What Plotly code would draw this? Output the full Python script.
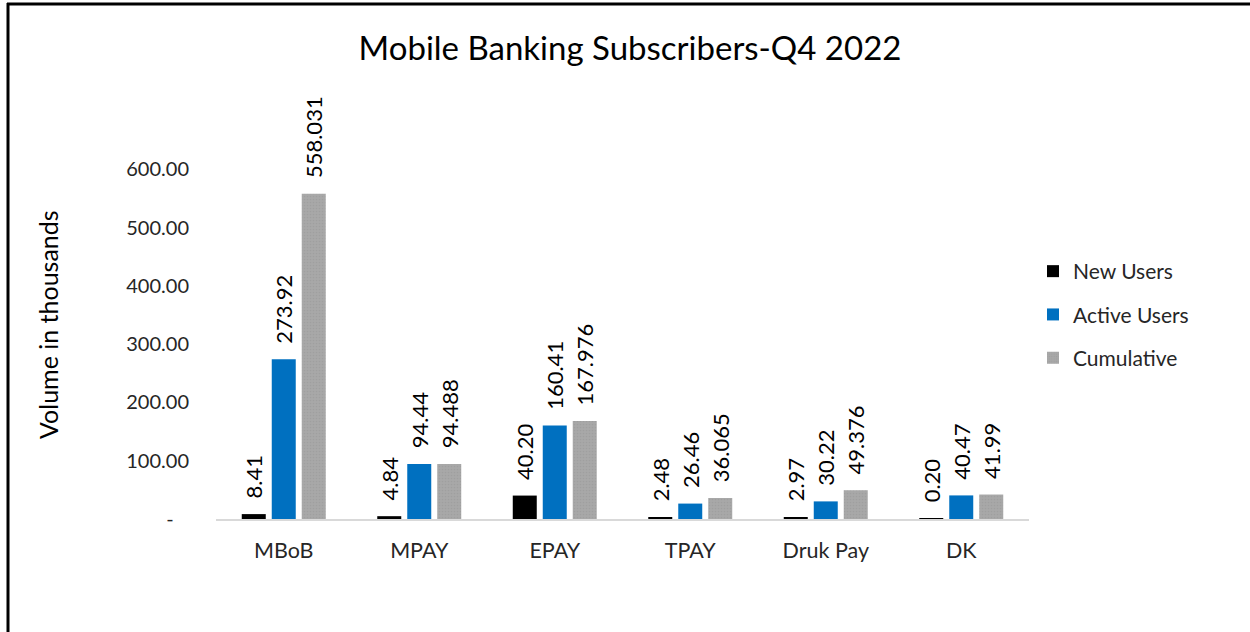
import plotly.graph_objects as go

categories = ["MBoB", "MPAY", "EPAY", "TPAY", "Druk Pay", "DK"]
new_users = [8.41, 4.84, 40.20, 2.48, 2.97, 0.20]
active_users = [273.92, 94.44, 160.41, 26.46, 30.22, 40.47]
cumulative = [558.031, 94.488, 167.976, 36.065, 49.376, 41.99]
tick_vals = [0, 100, 200, 300, 400, 500, 600]
tick_text = ["-\u00a0\u00a0\u00a0", "100.00", "200.00", "300.00", "400.00", "500.00", "600.00"]

FONT = "Lato, 'Open Sans', sans-serif"
PAD = "\u200b\u00a0\u00a0\u200a"

# pixel geometry helpers (plot area: x 216..1029, y 111..519)
L, R, T, B = 216, 1029, 111, 519
W, H = 1250, 632
def px(x):
    return (x - L) / (R - L)
def py(y):
    return (B - y) / (B - T)

fig = go.Figure()
series = [
    ("New Users", new_users, "#000000", "%{y:.2f}", None),
    ("Active Users", active_users, "#0070C0", "%{y:.2f}", None),
    ("Cumulative", cumulative, "#A5A5A5", "%{y}", dict(shape=".", fgcolor="#969696", bgcolor="#A8A8A8", size=3, solidity=0.25)),
]
for i, (name, vals, color, tmpl, pattern) in enumerate(series):
    marker = dict(color=color, line=dict(width=0))
    if pattern:
        marker["pattern"] = pattern
    fig.add_trace(go.Bar(
        name=name, x=categories, y=vals, marker=marker,
        texttemplate=PAD + tmpl, textposition="outside", textangle=-90,
        textfont=dict(family=FONT, size=22, color="#000000"),
        constraintext="none", cliponaxis=False, legendgroup=name,
    ))

fig.update_layout(
    width=W, height=H,
    margin=dict(l=L, r=W - R, t=T, b=H - B),
    paper_bgcolor="white", plot_bgcolor="white",
    barmode="group", bargap=0.336, bargroupgap=0.2,
    title=dict(text="Mobile Banking Subscribers-Q4 2022", x=630 / W, xref="container",
               y=1 - 48 / H, yref="container", xanchor="center", yanchor="middle",
               font=dict(family=FONT, size=33, color="#000000")),
    font=dict(family=FONT, color="#262626"),
    xaxis=dict(showline=True, linecolor="#D9D9D9", linewidth=2, showgrid=False,
               ticks="outside", ticklen=11, tickcolor="rgba(0,0,0,0)",
               tickfont=dict(family=FONT, size=21.5, color="#262626")),
    yaxis=dict(range=[0, 700], tickvals=tick_vals, ticktext=tick_text, showgrid=False,
               zeroline=False, showline=False, ticks="outside", ticklen=22,
               tickcolor="rgba(0,0,0,0)",
               tickfont=dict(family=FONT, size=20, color="#262626")),
    annotations=[
        dict(text="Volume in thousands", xref="paper", yref="paper", x=px(48), y=py(325),
             xanchor="center", yanchor="middle", textangle=-90, showarrow=False,
             font=dict(family=FONT, size=25, color="#000000")),
    ],
    legend=dict(x=px(1033), xanchor="left", y=py(251), yanchor="top",
                traceorder="grouped", tracegroupgap=13, itemwidth=30,
                font=dict(family=FONT, size=21, color="#262626"),
                bgcolor="rgba(0,0,0,0)"),
    shapes=[
        dict(type="line", xref="paper", yref="paper", x0=px(7), x1=px(1252), y0=py(4), y1=py(4),
             line=dict(color="black", width=3)),
        dict(type="line", xref="paper", yref="paper", x0=px(8), x1=px(8), y0=py(3), y1=py(640),
             line=dict(color="black", width=3)),
    ],
)
fig.write_html("out.html", config={"displayModeBar": False},
               post_script="document.body.style.margin='0';document.body.style.overflow='hidden';")
